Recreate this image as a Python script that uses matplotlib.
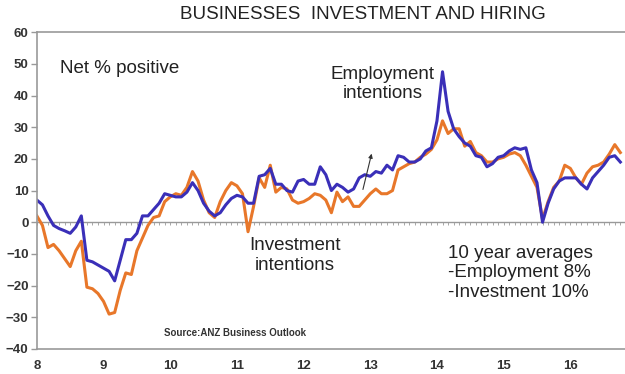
import numpy as np
import matplotlib
matplotlib.use("Agg")
import matplotlib.pyplot as plt

plt.rcParams['font.family'] = ['Liberation Sans', 'DejaVu Sans']

# monthly, Jan 2008 .. Oct 2016 (net % positive)
employment = [7, 5.5, 2, -1, -2, -2.7, -3.5, -1.5, 2, -12, -12.5, -13.5,
              -14.5, -15.5, -18.5, -12, -5.5, -5.5, -3.5, 2, 2, 4, 6, 9,
              8.5, 8, 8, 9.5, 12.5, 10, 6, 3.5, 2, 3, 5.5, 7.5,
              8.5, 8, 6, 6, 14.5, 15, 17, 12, 12, 10, 9.5, 13,
              13.5, 12, 12, 17.5, 15, 10, 12, 11, 9.5, 10.5, 14, 15,
              14.5, 16, 15.5, 18, 16.5, 21, 20.5, 19, 19, 20, 22.5, 23.5,
              32, 47.5, 35, 29.5, 27, 25, 24, 21, 20.5, 17.5, 18.5, 20.5,
              21, 22.5, 23.5, 23, 23.5, 16.5, 12.5, 0, 6, 10.5, 13, 14,
              14, 14, 12, 10.5, 14, 16, 18, 20.5, 21, 19]
investment = [2, -1, -8, -7, -9, -11.5, -14, -9, -6, -20.5, -21, -22.5,
              -25, -29, -28.5, -21.5, -16, -16.5, -9, -5, -1, 1.5, 2, 6.5,
              8, 9, 8.5, 11, 16, 13, 7, 3, 1.5, 6.5, 10, 12.5,
              11.5, 9, -3, 5, 14, 11, 18, 9.5, 11, 10.5, 7, 6,
              6.5, 7.5, 9, 8.5, 7, 3, 9.5, 6.5, 8, 5, 5, 7,
              9, 10.5, 9, 9, 10, 16.5, 17.5, 18.5, 19, 20.5, 21.5, 23,
              26, 32, 28, 29.5, 29.5, 24, 25.5, 22, 21, 19, 19, 20,
              20.5, 21.5, 22, 21, 18, 14.5, 11, 1, 6.5, 11, 13, 18,
              17, 14, 12, 15.5, 17.5, 18, 19, 21.5, 24.5, 22]
year_ticks = [2008, 2009, 2010, 2011, 2012, 2013, 2014, 2015, 2016]
year_labels = ['8', '9', '10', '11', '12', '13', '14', '15', '16']

t = 2008 + np.arange(len(employment)) / 12

fig = plt.figure(figsize=(6.25, 3.74), dpi=100)
ax = fig.add_axes([0.059, 0.067, 0.941, 0.847])

ax.plot(t, investment, color='#e8772a', lw=2.2)
ax.plot(t, employment, color='#3a2fb8', lw=2.2)

# zero line with monthly tick marks
ax.axhline(0, color='#999999', lw=1, zorder=0)
ax.vlines(t, -0.9, 0, color='#999999', lw=0.6, zorder=0)

ax.set_xlim(2008, 2016.82)
ax.set_ylim(-40, 60)
ax.set_yticks(range(-40, 61, 10))
ax.set_xticks(year_ticks)
ax.set_xticklabels(year_labels)
ax.tick_params(axis='both', labelsize=9.5, length=4, color='#999999', width=1)
ax.tick_params(axis='x', length=0, pad=8)
ax.tick_params(axis='y', pad=2)
for lab in ax.get_xticklabels() + ax.get_yticklabels():
    lab.set_fontweight('bold')
    lab.set_color('#333333')

for s in ['left', 'bottom', 'top']:
    ax.spines[s].set_color('#999999')
    ax.spines[s].set_linewidth(1.2)
ax.spines['right'].set_visible(False)

fig.text(0.58, 0.96, 'BUSINESSES  INVESTMENT AND HIRING', ha='center', va='center',
         fontsize=13.5, color='#222222')

ax.text(2008.35, 48.5, 'Net % positive', fontsize=13.5, va='center', color='#222222')
ax.text(2013.19, 43.5, 'Employment\nintentions', fontsize=13.5, ha='center', va='center',
        color='#222222', linespacing=1.15)
ax.text(2011.87, -10.5, 'Investment\nintentions', fontsize=13.5, ha='center', va='center',
        color='#222222', linespacing=1.2)
ax.text(2014.16, -16, '10 year averages\n-Employment 8%\n-Investment 10%', fontsize=13.5,
        va='center', color='#222222', linespacing=1.2)
ax.text(2009.9, -35, 'Source:ANZ Business Outlook', fontsize=7, va='center',
        fontweight='bold', color='#333333')

ax.annotate('', xy=(2013.03, 22.5), xytext=(2012.88, 9.5),
            arrowprops=dict(arrowstyle='-|>', color='#333333', lw=0.8, mutation_scale=6))

fig.savefig('out.png', dpi=100)
